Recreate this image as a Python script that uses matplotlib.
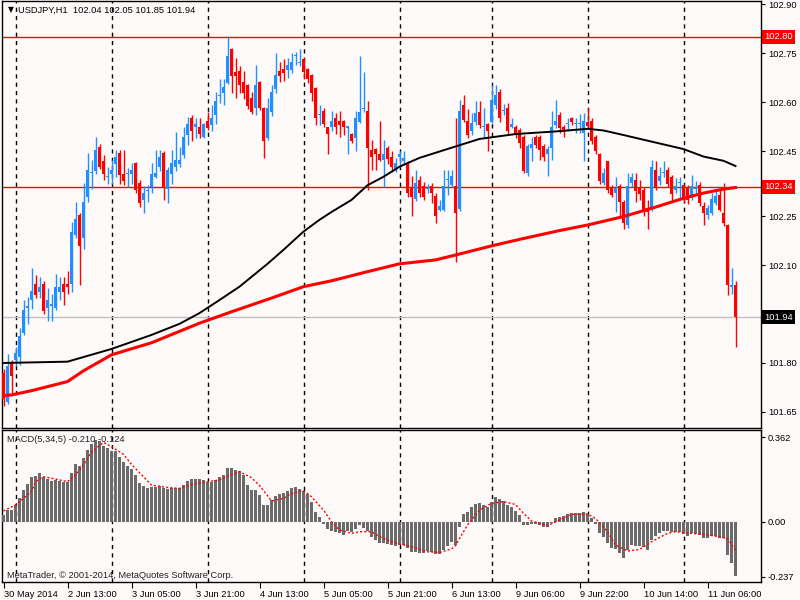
import matplotlib
matplotlib.use("Agg")
import matplotlib.pyplot as plt
import matplotlib.transforms as mtransforms
import numpy as np

plt.rcParams['font.family'] = ['Liberation Sans', 'DejaVu Sans']
FS = 6.7
BG = '#fffafa'
UP = '#1e90ff'
DN = '#ff0000'

# USDJPY H1 candles, 30 May 2014 21:00 .. 11 Jun 2014 13:00
opens = [101.768, 101.681, 101.802, 101.809, 101.819, 101.891, 101.970, 101.992, 102.042, 102.018,
         102.042, 101.970, 101.975, 101.970, 102.018, 102.042, 102.042, 102.042, 102.192, 102.254,
         102.182, 102.310, 102.383, 102.390, 102.463, 102.420, 102.370, 102.379, 102.410, 102.443,
         102.381, 102.380, 102.379, 102.412, 102.353, 102.300, 102.328, 102.340, 102.371, 102.400,
         102.443, 102.332, 102.379, 102.400, 102.410, 102.438, 102.500, 102.550, 102.523, 102.523,
         102.492, 102.543, 102.530, 102.561, 102.618, 102.629, 102.660, 102.763, 102.692, 102.694,
         102.663, 102.653, 102.612, 102.581, 102.661, 102.581, 102.491, 102.571, 102.640, 102.694,
         102.702, 102.699, 102.699, 102.740, 102.720, 102.733, 102.702, 102.683, 102.642, 102.561,
         102.573, 102.523, 102.523, 102.552, 102.542, 102.543, 102.522, 102.502, 102.491, 102.540,
         102.580, 102.573, 102.453, 102.455, 102.441, 102.423, 102.458, 102.431, 102.390, 102.431,
         102.420, 102.414, 102.336, 102.302, 102.361, 102.343, 102.333, 102.343, 102.312, 102.269,
         102.269, 102.360, 102.346, 102.343, 102.271, 102.591, 102.543, 102.510, 102.540, 102.571,
         102.524, 102.533, 102.540, 102.591, 102.632, 102.573, 102.581, 102.525, 102.525, 102.515,
         102.494, 102.382, 102.458, 102.494, 102.494, 102.464, 102.440, 102.458, 102.530, 102.561,
         102.525, 102.532, 102.550, 102.532, 102.534, 102.505, 102.540, 102.543, 102.494, 102.441,
         102.351, 102.418, 102.339, 102.320, 102.343, 102.295, 102.223, 102.351, 102.361, 102.341,
         102.330, 102.275, 102.269, 102.392, 102.359, 102.383, 102.392, 102.371, 102.331, 102.352,
         102.346, 102.339, 102.305, 102.332, 102.346, 102.282, 102.254, 102.261, 102.292, 102.315,
         102.261, 102.223, 102.032, 102.040]
highs = [101.780, 101.829, 101.810, 101.850, 101.906, 101.993, 102.003, 102.090, 102.070, 102.064,
         102.050, 102.029, 102.013, 102.072, 102.064, 102.064, 102.082, 102.233, 102.295, 102.260,
         102.351, 102.443, 102.422, 102.494, 102.470, 102.437, 102.402, 102.422, 102.453, 102.453,
         102.453, 102.397, 102.414, 102.415, 102.362, 102.343, 102.346, 102.414, 102.453, 102.453,
         102.450, 102.402, 102.453, 102.509, 102.463, 102.525, 102.553, 102.561, 102.550, 102.550,
         102.535, 102.569, 102.591, 102.632, 102.671, 102.672, 102.804, 102.765, 102.735, 102.712,
         102.694, 102.655, 102.632, 102.714, 102.665, 102.585, 102.612, 102.653, 102.752, 102.722,
         102.732, 102.735, 102.750, 102.755, 102.762, 102.735, 102.705, 102.685, 102.645, 102.591,
         102.581, 102.525, 102.573, 102.566, 102.573, 102.545, 102.525, 102.505, 102.573, 102.742,
         102.692, 102.604, 102.484, 102.460, 102.543, 102.484, 102.465, 102.450, 102.428, 102.450,
         102.450, 102.420, 102.372, 102.392, 102.373, 102.356, 102.349, 102.351, 102.320, 102.300,
         102.392, 102.392, 102.392, 102.550, 102.605, 102.622, 102.578, 102.568, 102.602, 102.602,
         102.581, 102.535, 102.653, 102.653, 102.640, 102.594, 102.596, 102.550, 102.530, 102.520,
         102.500, 102.470, 102.494, 102.500, 102.500, 102.470, 102.465, 102.574, 102.605, 102.570,
         102.530, 102.550, 102.555, 102.550, 102.564, 102.566, 102.581, 102.550, 102.500, 102.445,
         102.399, 102.420, 102.345, 102.371, 102.350, 102.300, 102.382, 102.384, 102.382, 102.360,
         102.341, 102.300, 102.423, 102.420, 102.402, 102.418, 102.402, 102.375, 102.366, 102.371,
         102.350, 102.346, 102.377, 102.357, 102.356, 102.295, 102.285, 102.320, 102.333, 102.330,
         102.353, 102.225, 102.090, 102.050]
lows = [101.668, 101.675, 101.707, 101.790, 101.793, 101.885, 101.919, 101.967, 102.000, 101.998,
        101.950, 101.929, 101.930, 101.962, 101.993, 101.978, 102.010, 102.018, 102.182, 102.039,
        102.151, 102.295, 102.335, 102.380, 102.395, 102.361, 102.350, 102.350, 102.370, 102.350,
        102.346, 102.340, 102.350, 102.320, 102.279, 102.261, 102.295, 102.320, 102.368, 102.390,
        102.300, 102.291, 102.350, 102.390, 102.400, 102.430, 102.469, 102.481, 102.491, 102.491,
        102.490, 102.515, 102.510, 102.532, 102.597, 102.591, 102.655, 102.629, 102.612, 102.629,
        102.609, 102.578, 102.565, 102.561, 102.575, 102.430, 102.485, 102.556, 102.627, 102.661,
        102.666, 102.673, 102.690, 102.714, 102.712, 102.671, 102.660, 102.602, 102.530, 102.530,
        102.525, 102.440, 102.510, 102.502, 102.494, 102.500, 102.440, 102.475, 102.451, 102.535,
        102.570, 102.330, 102.392, 102.392, 102.420, 102.341, 102.410, 102.387, 102.385, 102.402,
        102.410, 102.310, 102.251, 102.298, 102.310, 102.300, 102.320, 102.292, 102.230, 102.265,
        102.265, 102.315, 102.340, 102.111, 102.265, 102.540, 102.490, 102.500, 102.530, 102.520,
        102.494, 102.451, 102.535, 102.580, 102.540, 102.560, 102.500, 102.520, 102.490, 102.460,
        102.382, 102.372, 102.420, 102.460, 102.423, 102.420, 102.372, 102.423, 102.520, 102.505,
        102.492, 102.510, 102.530, 102.505, 102.505, 102.420, 102.520, 102.470, 102.440, 102.350,
        102.345, 102.320, 102.310, 102.264, 102.250, 102.210, 102.215, 102.340, 102.295, 102.300,
        102.250, 102.210, 102.265, 102.330, 102.346, 102.370, 102.340, 102.300, 102.320, 102.300,
        102.290, 102.288, 102.300, 102.320, 102.280, 102.223, 102.241, 102.255, 102.285, 102.265,
        102.220, 102.009, 102.012, 101.850]
closes = [101.688, 101.790, 101.760, 101.832, 101.882, 101.962, 101.973, 102.020, 102.008, 102.032,
          101.960, 101.992, 101.980, 102.032, 102.032, 102.018, 102.032, 102.202, 102.241, 102.159,
          102.295, 102.392, 102.387, 102.453, 102.400, 102.381, 102.373, 102.392, 102.433, 102.376,
          102.359, 102.383, 102.392, 102.330, 102.291, 102.320, 102.331, 102.381, 102.383, 102.433,
          102.340, 102.392, 102.414, 102.422, 102.422, 102.494, 102.533, 102.510, 102.532, 102.502,
          102.533, 102.520, 102.552, 102.604, 102.621, 102.645, 102.742, 102.681, 102.681, 102.651,
          102.629, 102.588, 102.571, 102.653, 102.581, 102.482, 102.581, 102.632, 102.684, 102.681,
          102.689, 102.714, 102.722, 102.743, 102.723, 102.692, 102.670, 102.629, 102.551, 102.564,
          102.532, 102.502, 102.542, 102.523, 102.530, 102.523, 102.524, 102.481, 102.550, 102.571,
          102.582, 102.460, 102.431, 102.440, 102.423, 102.441, 102.425, 102.400, 102.412, 102.441,
          102.430, 102.320, 102.310, 102.353, 102.320, 102.310, 102.335, 102.320, 102.251, 102.281,
          102.343, 102.362, 102.372, 102.261, 102.574, 102.545, 102.499, 102.535, 102.566, 102.530,
          102.526, 102.510, 102.605, 102.622, 102.550, 102.575, 102.510, 102.533, 102.499, 102.474,
          102.390, 102.464, 102.472, 102.469, 102.453, 102.431, 102.455, 102.525, 102.543, 102.520,
          102.507, 102.534, 102.540, 102.534, 102.536, 102.543, 102.527, 102.482, 102.451, 102.358,
          102.384, 102.331, 102.315, 102.336, 102.295, 102.228, 102.343, 102.371, 102.328, 102.318,
          102.270, 102.264, 102.402, 102.339, 102.373, 102.385, 102.349, 102.318, 102.343, 102.354,
          102.300, 102.300, 102.343, 102.334, 102.290, 102.261, 102.274, 102.302, 102.312, 102.270,
          102.228, 102.040, 102.040, 101.940]

# moving averages read at sample bars
ma_black_idx = [0, 16, 27, 37, 44, 49, 54, 59, 66, 70, 75, 79, 82, 87, 91, 95, 99, 104, 112, 119,
                128, 138, 146, 150, 155, 163, 170, 175, 180, 183]
ma_black = [101.800, 101.804, 101.843, 101.886, 101.920, 101.953, 101.993, 102.034, 102.104,
            102.147, 102.203, 102.239, 102.263, 102.300, 102.345, 102.371, 102.402, 102.429,
            102.460, 102.487, 102.502, 102.510, 102.518, 102.513, 102.499, 102.476, 102.456,
            102.433, 102.420, 102.404]
ma_red_idx = [0, 2, 7, 16, 20, 24, 27, 37, 49, 57, 67, 75, 82, 91, 99, 108, 113, 122, 129, 139,
              146, 155, 163, 170, 175, 180, 183]
ma_red = [101.700, 101.702, 101.715, 101.743, 101.776, 101.804, 101.825, 101.862, 101.922, 101.957,
          101.999, 102.034, 102.052, 102.080, 102.104, 102.116, 102.131, 102.159, 102.179, 102.206,
          102.223, 102.249, 102.278, 102.305, 102.321, 102.333, 102.338]

# MACD(5,34,5) histogram and signal
macd = [0.029, 0.049, 0.049, 0.072, 0.103, 0.136, 0.160, 0.190, 0.197, 0.207,
        0.193, 0.183, 0.176, 0.179, 0.175, 0.172, 0.169, 0.210, 0.247, 0.239,
        0.272, 0.308, 0.333, 0.350, 0.346, 0.326, 0.315, 0.305, 0.305, 0.279,
        0.258, 0.239, 0.226, 0.200, 0.167, 0.155, 0.143, 0.149, 0.150, 0.153,
        0.146, 0.140, 0.146, 0.143, 0.143, 0.157, 0.176, 0.182, 0.183, 0.182,
        0.179, 0.172, 0.172, 0.179, 0.193, 0.200, 0.232, 0.232, 0.222, 0.217,
        0.200, 0.157, 0.136, 0.136, 0.114, 0.072, 0.072, 0.093, 0.110, 0.117,
        0.124, 0.133, 0.143, 0.147, 0.140, 0.133, 0.117, 0.086, 0.040, 0.021,
        -0.009, -0.031, -0.040, -0.043, -0.047, -0.057, -0.040, -0.046, -0.031, -0.014,
        -0.026, -0.040, -0.067, -0.079, -0.093, -0.093, -0.097, -0.100, -0.103, -0.101,
        -0.100, -0.112, -0.129, -0.129, -0.133, -0.136, -0.126, -0.129, -0.139, -0.139,
        -0.122, -0.103, -0.086, -0.100, -0.021, 0.031, 0.040, 0.064, 0.076, 0.079,
        0.072, 0.064, 0.086, 0.107, 0.097, 0.089, 0.072, 0.064, 0.047, 0.029,
        -0.014, -0.014, -0.011, -0.011, -0.014, -0.024, -0.021, -0.004, 0.014, 0.021,
        0.026, 0.031, 0.039, 0.039, 0.036, 0.040, 0.031, 0.014, -0.010, -0.047,
        -0.064, -0.093, -0.112, -0.117, -0.136, -0.155, -0.122, -0.100, -0.103, -0.103,
        -0.107, -0.122, -0.079, -0.062, -0.050, -0.040, -0.040, -0.046, -0.046, -0.046,
        -0.054, -0.060, -0.050, -0.054, -0.057, -0.069, -0.069, -0.060, -0.060, -0.069,
        -0.069, -0.143, -0.179, -0.232]
sig_idx = [0, 3, 7, 8, 10, 13, 16, 18, 20, 22, 25, 27, 30, 32, 35, 37, 41, 44, 47, 51, 54, 57, 59,
           62, 64, 66, 67, 70, 72, 75, 77, 80, 82, 84, 87, 89, 92, 94, 97, 99, 102, 106, 109, 112,
           113, 114, 116, 119, 122, 125, 128, 130, 132, 136, 139, 142, 146, 148, 151, 153, 156,
           159, 162, 166, 168, 172, 175, 178, 181, 183]
sig = [0.046, 0.072, 0.129, 0.172, 0.193, 0.183, 0.172, 0.200, 0.243, 0.300, 0.340, 0.322, 0.289,
       0.246, 0.193, 0.157, 0.147, 0.143, 0.160, 0.172, 0.179, 0.203, 0.215, 0.189, 0.155, 0.112,
       0.089, 0.100, 0.122, 0.133, 0.107, 0.050, 0.000, -0.036, -0.050, -0.043, -0.043, -0.064,
       -0.086, -0.096, -0.107, -0.129, -0.132, -0.117, -0.103, -0.072, -0.014, 0.050, 0.079, 0.086,
       0.074, 0.036, 0.003, -0.017, 0.007, 0.031, 0.033, 0.014, -0.043, -0.100, -0.126, -0.119,
       -0.086, -0.050, -0.043, -0.050, -0.054, -0.062, -0.072, -0.122]

day_lines = [3, 27, 51, 75, 99, 122, 146, 170]
xtick_idx = [0, 16, 32, 48, 64, 80, 96, 112, 128, 144, 160, 176]
xtick_lbl = ['30 May 2014', '2 Jun 13:00', '3 Jun 05:00', '3 Jun 21:00', '4 Jun 13:00',
             '5 Jun 05:00', '5 Jun 21:00', '6 Jun 13:00', '9 Jun 06:00', '9 Jun 22:00',
             '10 Jun 14:00', '11 Jun 06:00']
price_ticks = [102.90, 102.75, 102.60, 102.45, 102.35, 102.25, 102.10, 101.95, 101.80, 101.65]
hidden_ticks = [102.35, 101.95]   # covered by the price boxes

o = np.array(opens); h = np.array(highs); l = np.array(lows); c = np.array(closes)
x = np.arange(len(o))
up = c >= o
cols = np.where(up, UP, DN)

fig = plt.figure(figsize=(8, 6), dpi=100, facecolor=BG)
W, H = 800.0, 600.0
ax = fig.add_axes([2 / W, 1 - 428 / H, 759 / W, 427 / H], facecolor=BG)
am = fig.add_axes([2 / W, 1 - 582 / H, 759 / W, 152 / H], facecolor=BG)

xl = (-0.375, 189.375)
for a in (ax, am):
    a.set_xlim(*xl)
    for d in day_lines:
        a.axvline(d, color='black', lw=1, dashes=(3, 3), zorder=1)
    for s in a.spines.values():
        s.set_color('black')
        s.set_linewidth(1)
    a.yaxis.tick_right()
    a.tick_params(axis='y', direction='out', length=3, labelsize=FS, pad=2, colors='black')

# price panel
ax.set_ylim(101.6006, 102.910)
ax.axhline(102.80, color='red', lw=1, zorder=2)
ax.axhline(102.34, color='red', lw=1, zorder=2)
ax.axhline(101.94, color='#c0c0c0', lw=1, zorder=2)
ax.vlines(x, l, h, colors=cols, lw=1, zorder=3)
body_h = np.maximum(np.abs(c - o), 0.0032)
ax.bar(x, body_h, bottom=np.minimum(o, c), width=0.75, color=cols, lw=0, zorder=4)
ax.plot(ma_black_idx, ma_black, color='black', lw=1.4, zorder=5)
ax.plot(ma_red_idx, ma_red, color='red', lw=2.2, zorder=5)
ax.set_yticks(price_ticks)
ax.set_yticklabels(['' if p in hidden_ticks else '%.2f' % p for p in price_ticks])
ax.set_xticks([])

tr = mtransforms.blended_transform_factory(ax.transAxes, ax.transData)
for val, fc in [(102.80, 'red'), (102.34, 'red'), (101.94, 'black')]:
    ax.text(1.004, val, '%.2f' % val, transform=tr, ha='left', va='center', fontsize=FS,
            color='white', clip_on=False, zorder=10,
            bbox=dict(boxstyle='square,pad=0.25', fc=fc, ec='none'))

# MACD panel
am.set_ylim(-0.2588, 0.3936)
am.bar(x, macd, width=0.75, color='#6b6b6b', lw=0, zorder=3)
am.plot(sig_idx, sig, color='red', lw=1, dashes=(1.5, 1.5), zorder=4)
am.set_yticks([0.362, 0.0, -0.237])
am.set_yticklabels(['0.362', '0.00', '-0.237'])
am.set_xticks(xtick_idx)
am.set_xticklabels(xtick_lbl)
am.tick_params(axis='x', direction='out', length=4, labelsize=FS, pad=1.5, colors='black')
for t in am.get_xticklabels():
    t.set_horizontalalignment('left')

fig.text(8 / W, 1 - 10 / H, '\u25bc', fontsize=5.5, ha='left', va='center', family=['DejaVu Sans'])
fig.text(18 / W, 1 - 10 / H, 'USDJPY,H1  102.04 102.05 101.85 101.94', fontsize=FS,
         ha='left', va='center', color='black')
fig.text(7 / W, 1 - 439 / H, 'MACD(5,34,5) -0.210 -0.124', fontsize=FS, ha='left', va='center',
         color='#202020')
fig.text(7 / W, 1 - 575 / H, 'MetaTrader, \u00a9 2001-2014, MetaQuotes Software Corp.', fontsize=FS,
         ha='left', va='center', color='#202020')

fig.savefig('out.png', dpi=100, facecolor=BG)
